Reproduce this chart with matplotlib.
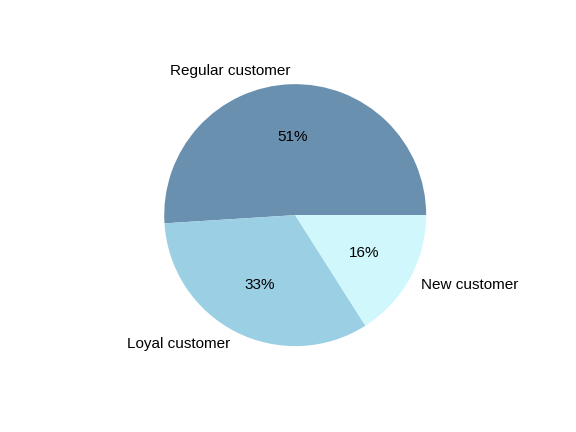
import matplotlib
matplotlib.use("Agg")
import matplotlib.pyplot as plt

plt.rcParams['font.family'] = ['Liberation Sans', 'DejaVu Sans']

categories = ["Regular customer", "Loyal customer", "New customer"]
values = [51, 33, 16]
colors = ["#6a90b0", "#9bd0e4", "#d0f8fc"]

fig, ax = plt.subplots(figsize=(5.76, 4.32), dpi=100)
fig.subplots_adjust(left=0.125, right=0.9, bottom=0.123, top=0.881)
ax.pie(values, labels=categories, colors=colors, autopct='%1.0f%%',
       textprops={'fontsize': 11})
fig.savefig("out.png", dpi=100)
